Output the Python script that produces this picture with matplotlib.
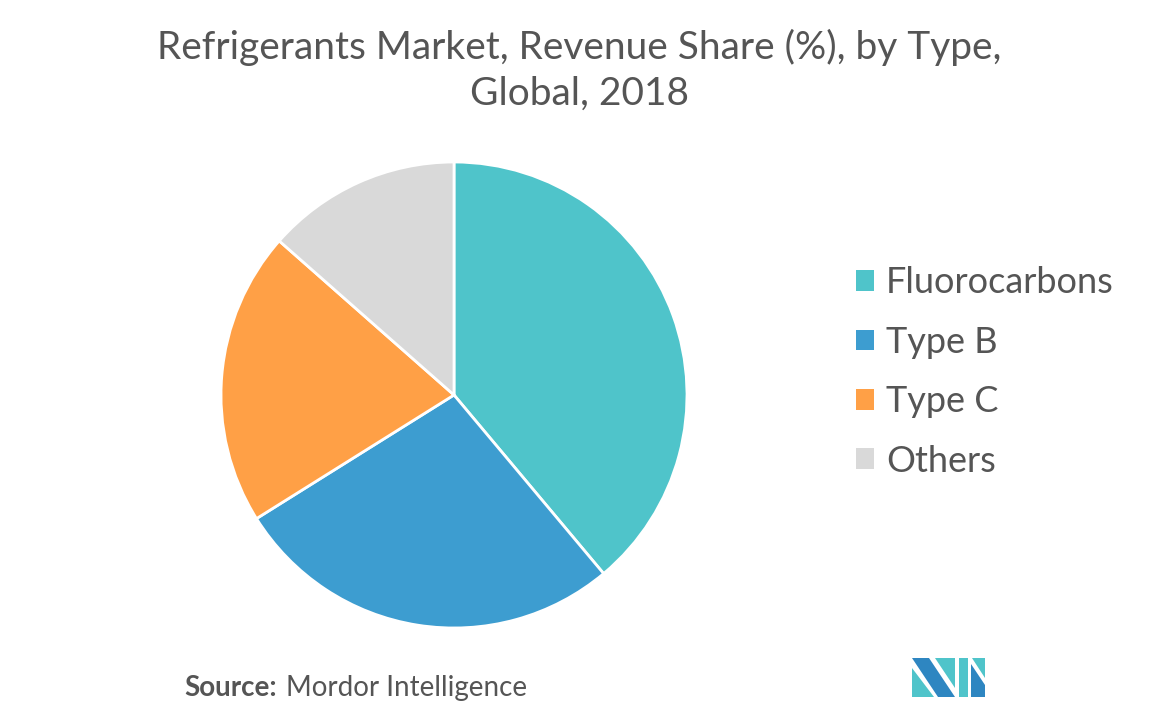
import matplotlib
matplotlib.use("Agg")
import matplotlib.pyplot as plt
from matplotlib.patches import Polygon, Patch

categories = ["Fluorocarbons", "Type B", "Type C", "Others"]
shares = [38.9, 27.2, 20.4, 13.5]
colors = ["#4FC4CA", "#3D9DD0", "#FFA046", "#D9D9D9"]
title = "Refrigerants Market, Revenue Share (%), by Type,\nGlobal, 2018"

W, H = 1154, 717
fig = plt.figure(figsize=(W / 100, H / 100), dpi=100)
fig.patch.set_facecolor("white")

cx, cy, r = 454, 395, 233
ax = fig.add_axes([(cx - r) / W, (H - cy - r) / H, 2 * r / W, 2 * r / H])
ax.pie(shares, colors=colors, startangle=90, counterclock=False, radius=1,
       wedgeprops=dict(edgecolor="white", linewidth=2))
ax.set_xlim(-1, 1)
ax.set_ylim(-1, 1)
ax.set_aspect("equal")
ax.axis("off")

fig.text(579 / W, 1 - 70 / H, title, ha="center", va="center", fontsize=28,
         color="#555555", family="Lato", linespacing=1.35)

handles = [Patch(facecolor=c, edgecolor="none") for c in colors]
leg = fig.legend(handles, categories, loc="center left",
                 bbox_to_anchor=(856 / W, 1 - 372 / H), frameon=False,
                 prop=dict(family="Lato", size=26), labelcolor="#555555",
                 handlelength=0.5, handleheight=0.5, handletextpad=0.33,
                 labelspacing=0.73, borderpad=0, borderaxespad=0)

fig.text(184 / W, 1 - 688 / H, "Source:", ha="left", va="center", fontsize=20,
         color="#555555", family="Lato", fontweight="bold")
fig.text(286 / W, 1 - 688 / H, "Mordor Intelligence", ha="left", va="center",
         fontsize=20, color="#555555", family="Lato")

def fp(pts):
    return [(x / W, 1 - y / H) for x, y in pts]

dark = "#2E86C1"
teal = "#4FC4CA"
logo = [
    (fp([(912, 658), (929, 658), (955, 697), (938, 697)]), dark),
    (fp([(912, 668), (934, 697), (912, 697)]), teal),
    (fp([(935, 658), (955, 658), (955, 688)]), teal),
    (fp([(959, 658), (968, 658), (968, 697), (959, 697)]), teal),
    (fp([(971, 664), (985, 685), (985, 697), (971, 697)]), dark),
    (fp([(972, 658), (985, 658), (985, 678)]), teal),
]
for pts, c in logo:
    fig.patches.append(Polygon(pts, closed=True, facecolor=c, edgecolor="none",
                               transform=fig.transFigure, figure=fig))

fig.savefig("out.png", dpi=100, facecolor="white")
